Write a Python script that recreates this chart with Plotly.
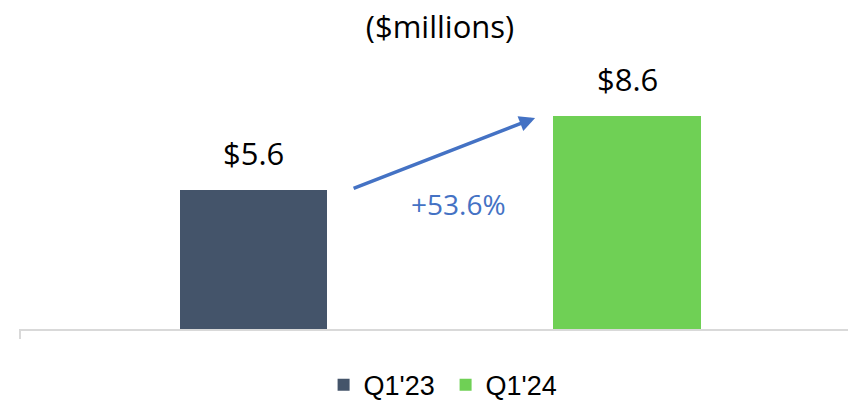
import plotly.graph_objects as go

categories = ["Q1'23", "Q1'24"]
values = [5.6, 8.6]
value_labels = ["$5.6", "$8.6"]
bar_colors = ["#44546A", "#6FD055"]
growth_label = "+53.6%"
title_text = "($millions)"

FONT = "Open Sans"

fig = go.Figure()
for cat, val, lab, col in zip(categories, values, value_labels, bar_colors):
    fig.add_trace(go.Bar(
        x=[cat], y=[val], name=cat, width=0.394,
        marker=dict(color=col, line=dict(width=0)),
    ))
    fig.add_annotation(
        x=cat, y=val, xref="x", yref="y", text=lab, showarrow=False,
        yanchor="bottom", yshift=14,
        font=dict(family=FONT, size=31, color="#000000"),
    )

fig.add_annotation(
    x=0.754, y=8.51, ax=0.264, ay=5.645,
    xref="x", yref="y", axref="x", ayref="y",
    text="", showarrow=True, arrowhead=2, arrowsize=0.9,
    arrowwidth=3.5, arrowcolor="#4472C4",
)
fig.add_annotation(
    x=0.548, y=(329 - 204) / 24.8, xref="x", yref="y",
    text=growth_label, showarrow=False,
    font=dict(family=FONT, size=28, color="#4472C4"),
)

fig.add_shape(type="line", xref="paper", yref="paper",
              x0=0, x1=0, y0=0, y1=-10 / 279,
              line=dict(color="#D9D9D9", width=2))

fig.update_layout(
    width=848, height=400,
    margin=dict(l=20, r=0, t=50, b=71, autoexpand=False),
    paper_bgcolor="white", plot_bgcolor="white",
    showlegend=True,
    title=dict(text=title_text, x=440 / 848, y=1 - 27 / 400,
               xanchor="center", yanchor="middle", xref="container", yref="container",
               font=dict(family=FONT, size=31, color="#000000")),
    legend=dict(orientation="h", x=0.514, y=-0.201, xanchor="center", yanchor="middle",
                font=dict(family="Liberation Sans", size=27, color="#000000"),
                itemwidth=30, entrywidth=77, tracegroupgap=0),
    xaxis=dict(range=[-0.6252, 1.5917], showline=True, linecolor="#D9D9D9", linewidth=2,
               showticklabels=False, ticks="", showgrid=False, zeroline=False),
    yaxis=dict(range=[0, 11.25], visible=False, showgrid=False, zeroline=False),
    bargap=0,
)

fig.write_html("out.html", config={"displayModeBar": False},
               post_script="document.body.style.margin='0px';")
